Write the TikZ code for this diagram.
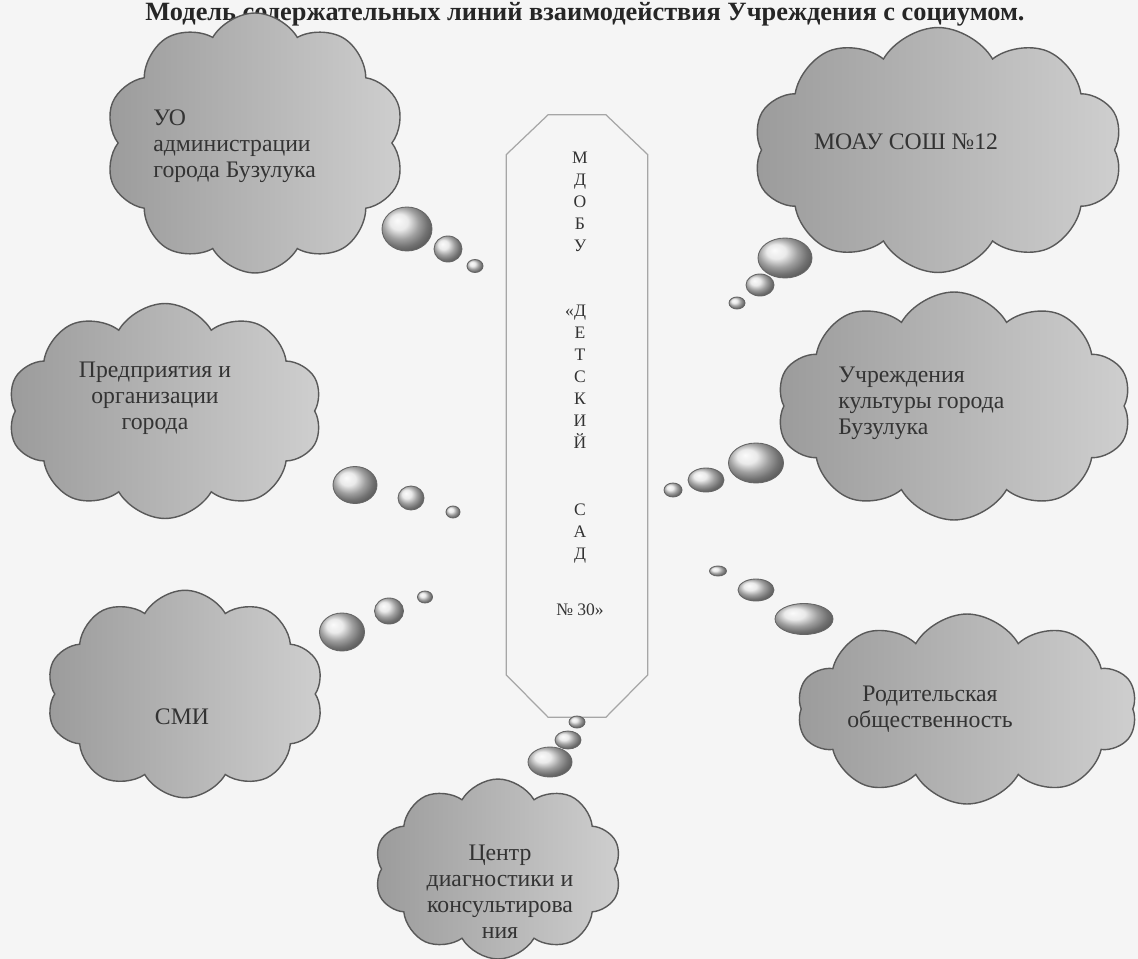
\documentclass[tikz,border=0pt]{standalone}
\usepackage{fontspec}
\setmainfont{Liberation Serif}
\usetikzlibrary{shapes.symbols, shapes.geometric, positioning}
\tikzset{
  cloudbox/.style={cloud, cloud puffs=10, cloud puff arc=120, cloud ignores aspect,
    draw=black!65, line width=0.8pt, left color=gray!78, right color=gray!38, inner sep=0pt},
  bubble/.style={ellipse, draw=black!60, line width=0.5pt, shading=ball, ball color=gray!22, inner sep=0pt},
  cloudtext/.style={font=\fontsize{13.5}{14.8}\selectfont, text=black!80, inner sep=0pt},
  octo/.style={draw=gray!70, line width=0.7pt},
}

\begin{document}
\begin{tikzpicture}[x=0.02cm, y=-0.02cm]
\fill[black!4] (0,0) rectangle (1138,959);
\useasboundingbox (0,0) rectangle (1138,959);

\node[font=\bfseries\fontsize{15}{18}\selectfont, text=black!85, anchor=base] (TITLE) at (585,21)
  {Модель содержательных линий взаимодействия Учреждения с социумом.};

% centre
\node[rectangle, minimum width=2.82cm, minimum height=12.04cm, inner sep=0pt] (MDOBU) at (577,416) {};
\draw[octo] ([yshift=-0.8cm]MDOBU.north west) -- ([xshift=0.84cm]MDOBU.north west)
  -- ([xshift=-0.84cm]MDOBU.north east) -- ([yshift=-0.8cm]MDOBU.north east)
  -- ([yshift=0.85cm]MDOBU.south east) -- ([xshift=-0.84cm]MDOBU.south east)
  -- ([xshift=0.84cm]MDOBU.south west) -- ([yshift=0.85cm]MDOBU.south west) -- cycle;
\node[font=\fontsize{10}{12.5}\selectfont, text=black!80, align=center, inner sep=0pt, anchor=north] (MDOBUtext) at (580,152)
  {М\\Д\\О\\Б\\У\\[24.4pt]\llap{«}Д\\Е\\Т\\С\\К\\И\\Й\\[25.5pt]С\\А\\Д\\[19.8pt]№ 30»};

% clouds
\node[cloudbox, minimum width=6cm, minimum height=5.2cm] (UO) at (255,143) {};
\node[cloudtext, align=left, anchor=west] (UOtext) at (153,146) {УО\\администрации\\города Бузулука};
\node[bubble, minimum width=1cm, minimum height=0.88cm] (UO1) at (407,229) {};
\node[bubble, minimum width=0.56cm, minimum height=0.52cm] (UO2) at (448,249) {};
\node[bubble, minimum width=0.32cm, minimum height=0.26cm] (UO3) at (475,266) {};

\node[cloudbox, minimum width=7.4cm, minimum height=4.9cm] (MOAU) at (938,150) {};
\node[cloudtext] (MOAUtext) at (906,142) {МОАУ СОШ №12};
\node[bubble, minimum width=1.08cm, minimum height=0.8cm] (MOAU1) at (785,258) {};
\node[bubble, minimum width=0.56cm, minimum height=0.44cm] (MOAU2) at (760,285) {};
\node[bubble, minimum width=0.32cm, minimum height=0.24cm] (MOAU3) at (737,303) {};

\node[cloudbox, minimum width=6.3cm, minimum height=4.3cm] (PRED) at (165,411) {};
\node[cloudtext, align=center] (PREDtext) at (155,398) {Предприятия и\\организации\\города};
\node[bubble, minimum width=0.88cm, minimum height=0.74cm] (PRED1) at (355,485) {};
\node[bubble, minimum width=0.52cm, minimum height=0.48cm] (PRED2) at (411,498) {};
\node[bubble, minimum width=0.28cm, minimum height=0.24cm] (PRED3) at (453,512) {};

\node[cloudbox, minimum width=7.1cm, minimum height=4.56cm] (KULT) at (954,406) {};
\node[cloudtext, align=left, anchor=west] (KULTtext) at (838,403) {Учреждения\\культуры города\\Бузулука};
\node[bubble, minimum width=1.1cm, minimum height=0.8cm] (KULT1) at (756,463) {};
\node[bubble, minimum width=0.72cm, minimum height=0.48cm] (KULT2) at (706,480) {};
\node[bubble, minimum width=0.36cm, minimum height=0.28cm] (KULT3) at (673,490) {};

\node[cloudbox, minimum width=5.56cm, minimum height=4.15cm] (SMI) at (185,694) {};
\node[cloudtext] (SMItext) at (182,717) {СМИ};
\node[bubble, minimum width=0.9cm, minimum height=0.76cm] (SMI1) at (342,632) {};
\node[bubble, minimum width=0.58cm, minimum height=0.52cm] (SMI2) at (389,611) {};
\node[bubble, minimum width=0.3cm, minimum height=0.24cm] (SMI3) at (425,597) {};

\node[cloudbox, minimum width=6.8cm, minimum height=3.8cm] (ROD) at (967,709) {};
\node[cloudtext, align=center] (RODtext) at (930,709) {Родительская\\общественность};
\node[bubble, minimum width=0.34cm, minimum height=0.2cm] (ROD1) at (718,571) {};
\node[bubble, minimum width=0.72cm, minimum height=0.44cm] (ROD2) at (756,590) {};
\node[bubble, minimum width=1.16cm, minimum height=0.62cm] (ROD3) at (804,619) {};

\node[cloudbox, minimum width=4.95cm, minimum height=3.6cm] (CENTR) at (498,869) {};
\node[cloudtext, align=center] (CENTRtext) at (500,892) {Центр\\диагностики и\\консультирова\\ния};
\node[bubble, minimum width=0.88cm, minimum height=0.6cm] (CENTR1) at (550,762) {};
\node[bubble, minimum width=0.52cm, minimum height=0.36cm] (CENTR2) at (568,740) {};
\node[bubble, minimum width=0.32cm, minimum height=0.24cm] (CENTR3) at (577,722) {};

\end{tikzpicture}
\end{document}
